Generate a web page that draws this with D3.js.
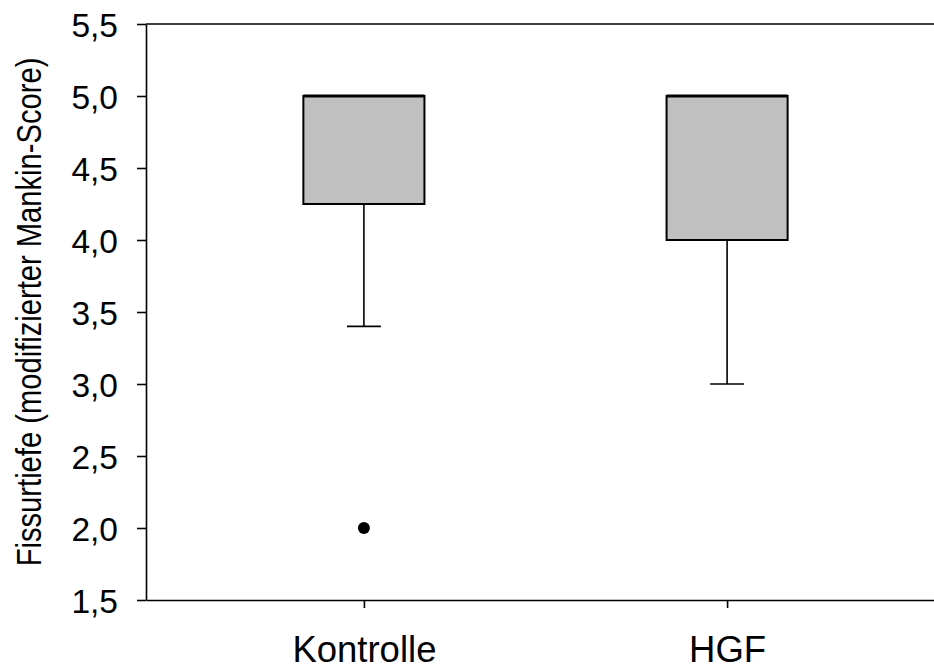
<!doctype html>
<html>
  <head>
    <script src="https://cdnjs.cloudflare.com/ajax/libs/d3/7.8.5/d3.min.js"></script>
    <style>
      body { margin: 0; background: #fff; }
      svg { display: block; }
      text { font-family: "Liberation Sans", Arial, sans-serif; fill: #000; }
      .axis path, .axis line { stroke: #000; stroke-width: 1.6; }
      rect.box { fill: #c0c0c0; stroke: #000; stroke-width: 2; }
      line.median { stroke: #000; stroke-width: 3; }
      line.whisker { stroke: #000; stroke-width: 1.6; }
      circle.outlier { fill: #000; }
    </style>
  </head>
  <body>
    <svg id="chart" width="934" height="671"></svg>
    <script>
      // values
      var groups = ["Kontrolle", "HGF"];
      var lowWhisker = [3.4, 3.0];
      var q1 = [4.25, 4.0];
      var median = [5.0, 5.0];
      var q3 = [5.0, 5.0];
      var highWhisker = [5.0, 5.0];
      var outliers = [[2.0], []];
      var yTicks = [1.5, 2.0, 2.5, 3.0, 3.5, 4.0, 4.5, 5.0, 5.5];

      var plotLeft = 146, plotRight = 945, plotTop = 24, plotBottom = 600;

      var svg = d3.select("#chart");

      var x = d3.scalePoint()
        .domain(groups)
        .range([plotLeft, plotRight])
        .padding(0.6);

      var y = d3.scaleLinear()
        .domain([1.5, 5.5])
        .range([plotBottom, plotTop]);

      var de = d3.formatLocale({ decimal: ",", thousands: ".", grouping: [3], currency: ["", " €"] });
      var fmt = de.format(".1f");

      // frame top line
      svg.append("line")
        .attr("class", "whisker")
        .attr("x1", plotLeft).attr("x2", plotRight)
        .attr("y1", plotTop).attr("y2", plotTop);

      var yAxis = svg.append("g")
        .attr("class", "axis")
        .attr("transform", "translate(" + plotLeft + ",0)")
        .call(d3.axisLeft(y).tickValues(yTicks).tickFormat(fmt).tickSize(9).tickSizeOuter(0).tickPadding(19));
      yAxis.selectAll("text")
        .style("font-size", "33.5px")
        .attr("dy", "0.36em");

      var xAxis = svg.append("g")
        .attr("class", "axis")
        .attr("transform", "translate(0," + plotBottom + ")")
        .call(d3.axisBottom(x).tickSize(8).tickSizeOuter(0).tickPadding(0));
      xAxis.selectAll("text")
        .style("font-size", "36.5px")
        .attr("y", 62)
        .attr("dy", 0);

      // y title, condensed along its length like the original
      svg.append("text")
        .attr("transform", "translate(41," + ((plotTop + plotBottom) / 2) + ") rotate(-90) scale(0.81,1)")
        .attr("text-anchor", "middle")
        .style("font-size", "36px")
        .text("Fissurtiefe (modifizierter Mankin-Score)");

      var boxW = x.step() / 3;
      var capW = boxW * 0.28;

      var g = svg.append("g");
      groups.forEach(function (name, i) {
        var cx = x(name);

        // lower whisker
        g.append("line").attr("class", "whisker")
          .attr("x1", cx).attr("x2", cx)
          .attr("y1", y(q1[i])).attr("y2", y(lowWhisker[i]));
        g.append("line").attr("class", "whisker")
          .attr("x1", cx - capW / 2).attr("x2", cx + capW / 2)
          .attr("y1", y(lowWhisker[i])).attr("y2", y(lowWhisker[i]));

        // upper whisker
        if (highWhisker[i] > q3[i]) {
          g.append("line").attr("class", "whisker")
            .attr("x1", cx).attr("x2", cx)
            .attr("y1", y(q3[i])).attr("y2", y(highWhisker[i]));
          g.append("line").attr("class", "whisker")
            .attr("x1", cx - capW / 2).attr("x2", cx + capW / 2)
            .attr("y1", y(highWhisker[i])).attr("y2", y(highWhisker[i]));
        }

        g.append("rect").attr("class", "box")
          .attr("x", cx - boxW / 2)
          .attr("width", boxW)
          .attr("y", y(q3[i]))
          .attr("height", y(q1[i]) - y(q3[i]));

        g.append("line").attr("class", "median")
          .attr("x1", cx - boxW / 2).attr("x2", cx + boxW / 2)
          .attr("y1", y(median[i])).attr("y2", y(median[i]));

        outliers[i].forEach(function (v) {
          g.append("circle").attr("class", "outlier")
            .attr("cx", cx).attr("cy", y(v)).attr("r", 6);
        });
      });
    </script>
  </body>
</html>
